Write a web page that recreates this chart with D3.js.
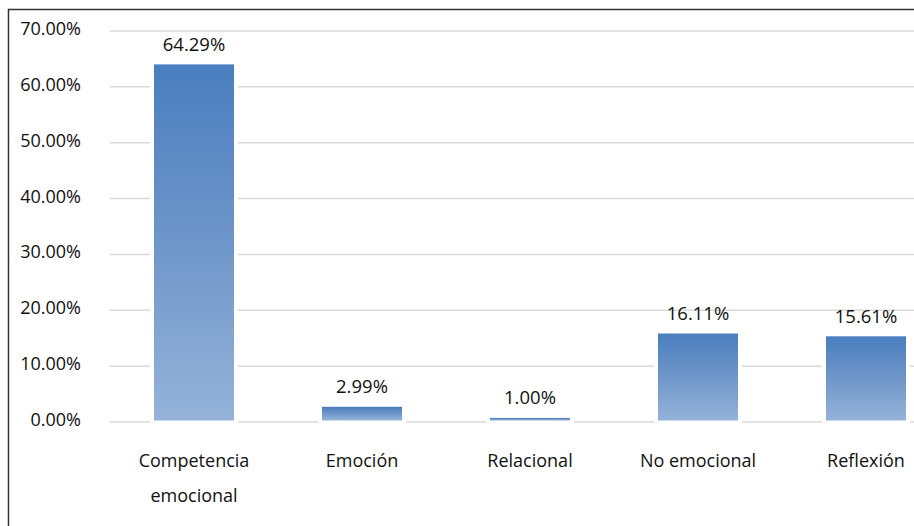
<!DOCTYPE html>
<html><head><meta charset="utf-8">
<script src="https://cdn.jsdelivr.net/npm/d3@7"></script>
<style>html,body{margin:0;padding:0;background:#fff;}svg{display:block;}</style>
</head><body>
<svg id="c" width="914" height="526"></svg>
<script>
const categories = [["Competencia","emocional"],["Emoción"],["Relacional"],["No emocional"],["Reflexión"]];
const values = [64.29, 2.99, 1.00, 16.11, 15.61];
const valueLabels = ["64.29%","2.99%","1.00%","16.11%","15.61%"];
const yTicks = [0,10,20,30,40,50,60,70];

const svg = d3.select("#c");
const font = "'Open Sans', sans-serif";
const x = d3.scaleBand().domain(d3.range(values.length)).range([110, 950]).paddingInner(0.5238).paddingOuter(0.2619);
const y = d3.scaleLinear().domain([0,70]).range([422, 31]);

const defs = svg.append("defs");
const g = defs.append("linearGradient").attr("id","bg").attr("x1",0).attr("y1",0).attr("x2",0).attr("y2",1);
g.append("stop").attr("offset","0%").attr("stop-color","#4a7ebf");
g.append("stop").attr("offset","50%").attr("stop-color","#6f96c9");
g.append("stop").attr("offset","100%").attr("stop-color","#95b3d9");

// border
svg.append("path").attr("d","M8.5,530 L8.5,9.5 L920,9.5").attr("fill","none").attr("stroke","#333").attr("stroke-width",1.5);

// grid
svg.append("g").selectAll("line").data(yTicks).join("line")
  .attr("x1",110).attr("x2",950).attr("y1",d=>y(d)).attr("y2",d=>y(d))
  .attr("stroke","#d9d9d9").attr("stroke-width",1.5);

svg.append("g").selectAll("text").data(yTicks).join("text")
  .attr("x",81).attr("y",d=>y(d)+4).attr("text-anchor","end")
  .attr("font-family",font).attr("font-size",18).attr("fill","#111")
  .text(d=>d3.format(".2f")(d)+"%");

const bw = x.bandwidth();
// white gap behind bars
svg.append("g").selectAll("rect").data(values).join("rect")
  .attr("x",(d,i)=>x(i)-4).attr("width",bw+8)
  .attr("y",d=>y(d)-2).attr("height",d=>y(0)-y(d)+3).attr("fill","#fff");
svg.append("g").selectAll("rect").data(values).join("rect")
  .attr("x",(d,i)=>x(i)).attr("width",bw)
  .attr("y",d=>y(d)+1.5).attr("height",d=>Math.max(1.5,y(0)-y(d)-3))
  .attr("fill","url(#bg)");

svg.append("g").selectAll("text").data(values).join("text")
  .attr("x",(d,i)=>x(i)+bw/2).attr("y",d=>y(d)-12).attr("text-anchor","middle")
  .attr("font-family",font).attr("font-size",18.5).attr("fill","#111")
  .text((d,i)=>valueLabels[i]);

const cl = svg.append("g").selectAll("text").data(categories).join("text")
  .attr("text-anchor","middle")
  .attr("font-family",font).attr("font-size",18).attr("fill","#111");
cl.each(function(d,i){
  const t=d3.select(this);
  d.forEach((s,j)=>t.append("tspan").attr("x",x(i)+bw/2).attr("y",467+j*35).text(s));
});
</script>
</body></html>
